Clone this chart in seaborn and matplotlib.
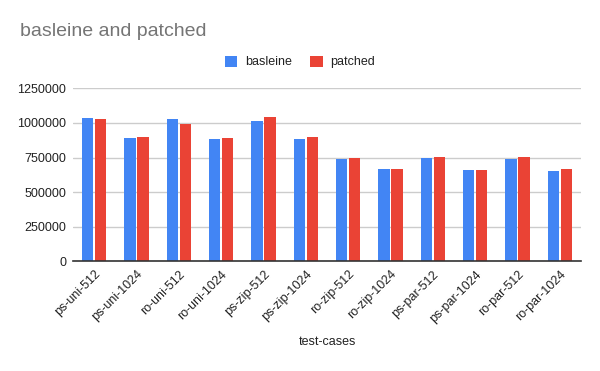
import pandas as pd
import numpy as np
import matplotlib
matplotlib.use("Agg")
import matplotlib.pyplot as plt
import seaborn as sns

# Datos del grafico
casos = ["ps-uni-512", "ps-uni-1024", "ro-uni-512", "ro-uni-1024",
         "ps-zip-512", "ps-zip-1024", "ro-zip-512", "ro-zip-1024",
         "ps-par-512", "ps-par-1024", "ro-par-512", "ro-par-1024"]
basleine = [1035000, 890000, 1028000, 883000, 1013000, 883000,
            739000, 667000, 746000, 660000, 739000, 652000]
patched = [1028000, 898000, 992000, 890000, 1042000, 898000,
           746000, 667000, 753000, 660000, 753000, 667000]
y_ticks = [0, 250000, 500000, 750000, 1000000, 1250000]

df = pd.DataFrame({
    "test-cases": casos * 2,
    "valor": basleine + patched,
    "serie": ["basleine"] * len(casos) + ["patched"] * len(casos),
})

sns.set_style("white")
plt.rcParams["font.family"] = ["Liberation Sans", "DejaVu Sans"]

fig = plt.figure(figsize=(6, 3.71), dpi=100)
ax = fig.add_axes([73 / 600, 1 - 261.3 / 371, 508 / 600, (261.3 - 88.3) / 371])

sns.barplot(data=df, x="test-cases", y="valor", hue="serie", ax=ax,
            palette={"basleine": "#4285F4", "patched": "#EA4335"},
            width=0.62, gap=0.13, saturation=1, linewidth=0, legend=True)

ax.set_ylim(0, 1250000)
ax.set_yticks(y_ticks)
ax.set_yticklabels([str(v) for v in y_ticks])
ax.set_xlim(-0.5, len(casos) - 0.5)
ax.grid(axis="y", color="#cccccc", linewidth=1)
ax.set_axisbelow(True)
for s in ["left", "right", "top"]:
    ax.spines[s].set_visible(False)
ax.spines["bottom"].set_color("#333333")
ax.spines["bottom"].set_linewidth(1.2)
ax.tick_params(axis="both", length=0, labelsize=9, colors="#222222")
ax.tick_params(axis="y", pad=5)
ax.tick_params(axis="x", pad=5)
plt.setp(ax.get_xticklabels(), rotation=45, ha="right", rotation_mode="anchor")
ax.set_ylabel("")
ax.set_xlabel("test-cases", fontsize=9, color="#222222", labelpad=8)

# Leyenda arriba centrada
handles, labels = ax.get_legend_handles_labels()
ax.get_legend().remove()
fig.legend(handles, labels, loc="center", bbox_to_anchor=(0.5, 1 - 62 / 371),
           ncol=2, frameon=False, fontsize=9, handlelength=1.0, handleheight=1.0,
           columnspacing=1.5, handletextpad=0.6, labelcolor="#222222")

fig.text(20 / 600, 1 - 32 / 371, "basleine and patched", fontsize=14,
         color="#757575", va="center", ha="left")

fig.savefig("out.png", dpi=100)
